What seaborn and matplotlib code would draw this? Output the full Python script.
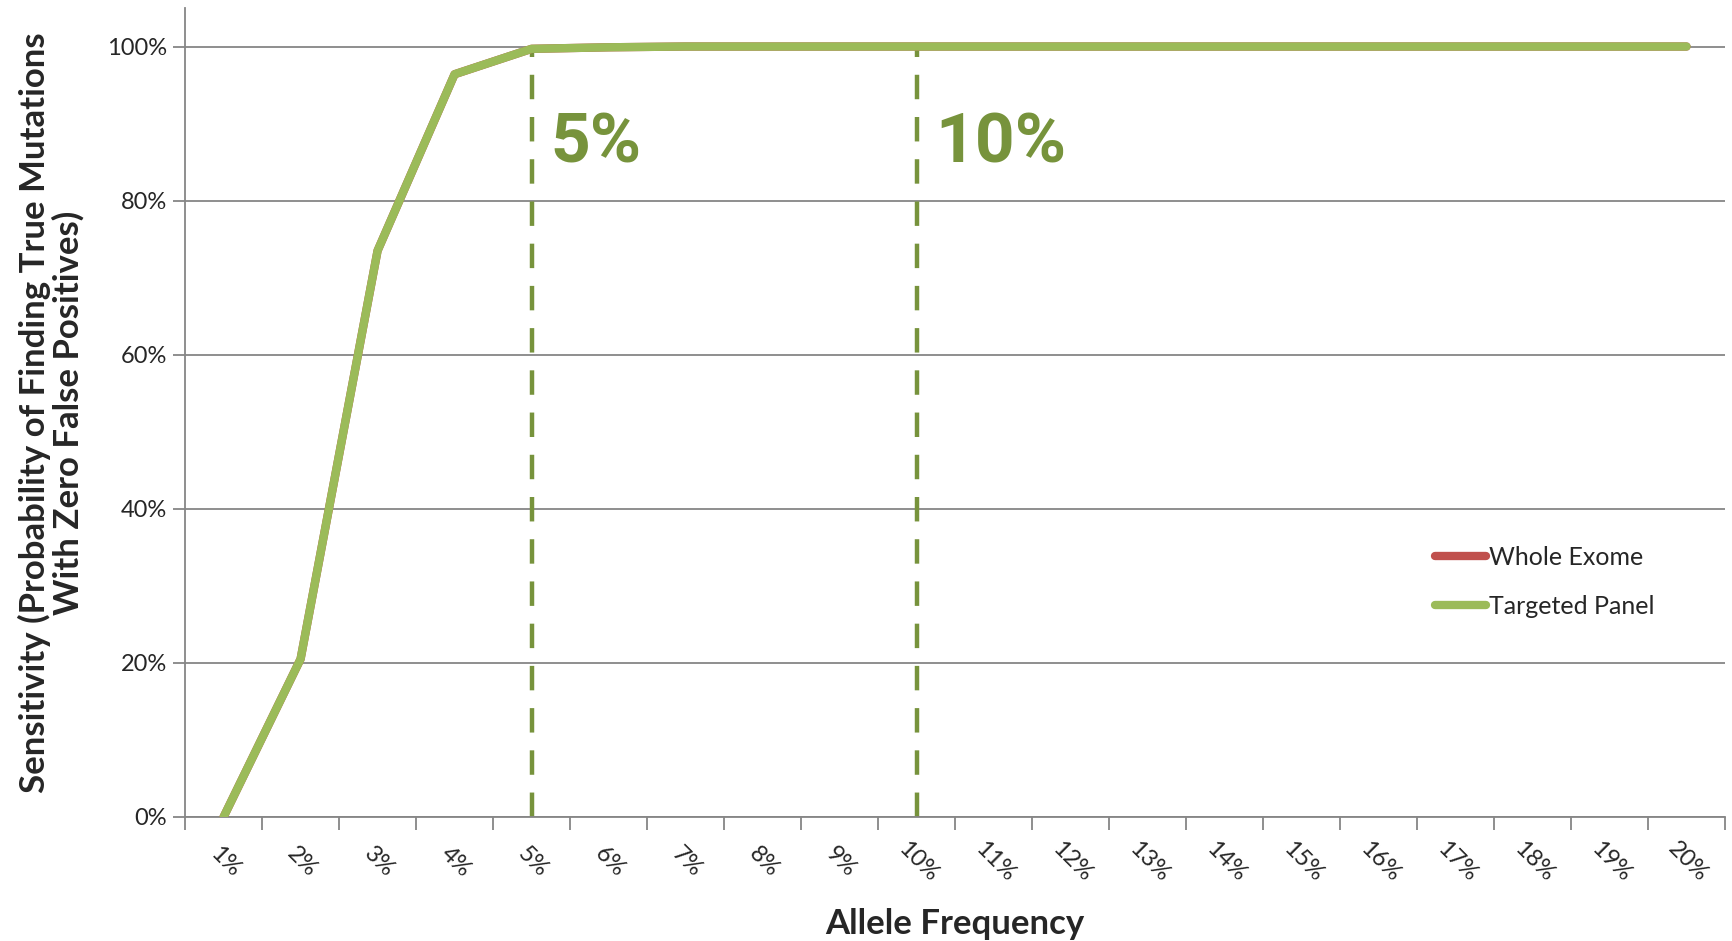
import matplotlib
matplotlib.use("Agg")
import matplotlib.pyplot as plt
import matplotlib.transforms as mtransforms
import seaborn as sns
import pandas as pd
import numpy as np
from matplotlib.ticker import FuncFormatter, FixedLocator
from matplotlib.lines import Line2D

# Allele frequency categories (x axis)
frequencies = ["1%", "2%", "3%", "4%", "5%", "6%", "7%", "8%", "9%", "10%",
               "11%", "12%", "13%", "14%", "15%", "16%", "17%", "18%", "19%", "20%"]

# Sensitivity per series (fraction of true mutations found)
whole_exome = [0.0, 0.205, 0.735, 0.964, 0.997, 0.999, 1.0, 1.0, 1.0, 1.0,
               1.0, 1.0, 1.0, 1.0, 1.0, 1.0, 1.0, 1.0, 1.0, 1.0]
targeted_panel = [0.0, 0.205, 0.735, 0.964, 0.997, 0.999, 1.0, 1.0, 1.0, 1.0,
                  1.0, 1.0, 1.0, 1.0, 1.0, 1.0, 1.0, 1.0, 1.0, 1.0]

series_names = ["Whole Exome", "Targeted Panel"]
series_colors = ["#C0504D", "#9BBB59"]

# Reference thresholds marked with dashed lines
threshold_labels = ["5%", "10%"]

df = pd.DataFrame({
    "Allele Frequency": frequencies * 2,
    "Sensitivity": whole_exome + targeted_panel,
    "Series": [series_names[0]] * len(frequencies) + [series_names[1]] * len(frequencies),
})
df["pos"] = [frequencies.index(f) for f in df["Allele Frequency"]]

sns.set_theme(style="white")
plt.rcParams["font.family"] = ["Lato", "DejaVu Sans"]

fig = plt.figure(figsize=(17.33, 9.41), dpi=100)
ax = fig.add_axes([0.1068, 0.1318, 0.8886, 0.8597])

ax.set_ylim(0, 1.05)
ax.set_xlim(-0.5, len(frequencies) - 0.5)

# gridlines
for y in np.arange(0, 1.01, 0.2):
    ax.axhline(y, color="#868686", lw=1.3, zorder=0)

sns.lineplot(data=df, x="pos", y="Sensitivity", hue="Series",
             hue_order=series_names, palette=series_colors,
             lw=6, sort=False, ax=ax, legend=False, zorder=3,
             solid_capstyle="round")

# dashed threshold markers with labels
for lab in threshold_labels:
    xi = frequencies.index(lab)
    ax.plot([xi, xi], [0, 1.0], color="#77933C", lw=3.2,
            linestyle=(0, (5.5, 4.0)), zorder=2)
    ax.text(xi + 0.24, 0.85, lab, color="#77933C", fontsize=50,
            fontweight="bold", family=["Roboto", "DejaVu Sans"],
            ha="left", va="baseline", zorder=4)

# axes styling
for side in ["top", "right"]:
    ax.spines[side].set_visible(False)
for side in ["left", "bottom"]:
    ax.spines[side].set_color("#868686")
    ax.spines[side].set_linewidth(1.3)

ax.yaxis.set_major_locator(FixedLocator(np.arange(0, 1.01, 0.2)))
ax.yaxis.set_major_formatter(FuncFormatter(lambda v, p: f"{v*100:.0f}%"))
ax.tick_params(axis="y", which="major", left=True, length=9, width=1.3,
               color="#868686", labelsize=17, pad=4)

# x: ticks at category boundaries, labels at centres
ax.xaxis.set_major_locator(FixedLocator(np.arange(-0.5, len(frequencies), 1.0)))
ax.xaxis.set_major_formatter(FuncFormatter(lambda v, p: ""))
ax.xaxis.set_minor_locator(FixedLocator(np.arange(len(frequencies))))
ax.set_xticklabels(frequencies, minor=True, rotation=-45, ha="center",
                   rotation_mode="anchor", fontsize=17)
ax.tick_params(axis="x", which="major", bottom=True, length=9, width=1.3,
               color="#868686")
ax.tick_params(axis="x", which="minor", bottom=False, length=0, pad=27)
shift = mtransforms.ScaledTranslation(0.09, 0, fig.dpi_scale_trans)
for lbl in ax.get_xticklabels(minor=True):
    lbl.set_transform(lbl.get_transform() + shift)

ax.set_xlabel("Allele Frequency", fontsize=25, fontweight="bold", labelpad=16)
ax.set_ylabel("Sensitivity (Probability of Finding True Mutations\nWith Zero False Positives)",
              fontsize=25, fontweight="bold", labelpad=16, linespacing=1.05)

handles = [Line2D([0], [0], color=c, lw=6, solid_capstyle="round") for c in series_colors]
ax.legend(handles, series_names, loc="upper left", bbox_to_anchor=(0.797, 0.363),
          frameon=False, fontsize=18, handlelength=2.05, handletextpad=0.12,
          labelspacing=1.05)

fig.savefig("out.png", dpi=100)
